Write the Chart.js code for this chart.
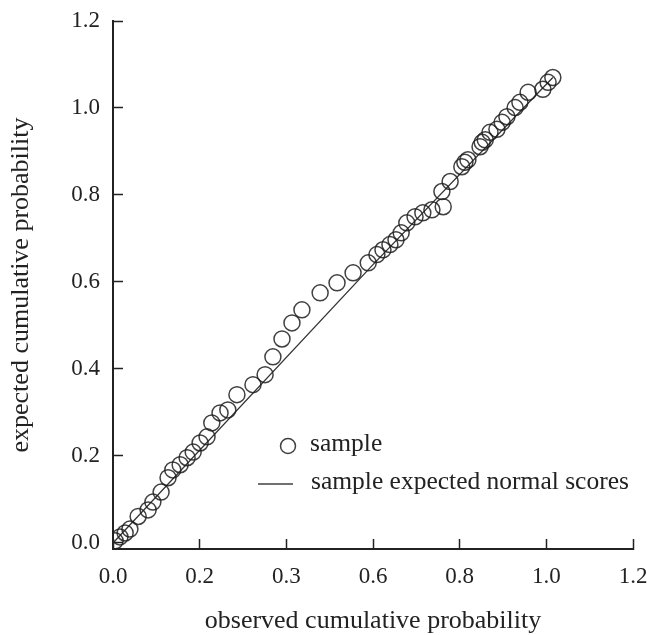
<!DOCTYPE html>
<html><head><meta charset="utf-8">
<script src="https://cdn.jsdelivr.net/npm/chart.js@4.4.0/dist/chart.umd.min.js"></script>
<style>html,body{margin:0;padding:0;background:#fff}#wrap{width:647px;height:635px}</style>
</head><body><div id="wrap"><canvas id="c" width="647" height="635"></canvas></div>
<script>
const observed = [0.005,0.016,0.028,0.039,0.058,0.081,0.092,0.111,0.127,0.138,0.155,0.171,0.185,0.201,0.217,0.228,0.247,0.265,0.286,0.323,0.351,0.369,0.390,0.413,0.436,0.478,0.517,0.554,0.589,0.609,0.623,0.639,0.653,0.665,0.678,0.697,0.715,0.736,0.762,0.759,0.778,0.805,0.812,0.819,0.847,0.852,0.859,0.870,0.886,0.898,0.909,0.928,0.939,0.958,0.992,1.004,1.015];
const expected = [0.005,0.014,0.023,0.032,0.061,0.076,0.094,0.117,0.150,0.168,0.180,0.196,0.209,0.230,0.244,0.276,0.299,0.306,0.341,0.364,0.387,0.428,0.469,0.506,0.536,0.575,0.598,0.621,0.644,0.663,0.674,0.686,0.697,0.713,0.736,0.750,0.759,0.766,0.773,0.808,0.831,0.865,0.875,0.881,0.911,0.921,0.927,0.944,0.951,0.967,0.980,1.001,1.013,1.036,1.043,1.059,1.070];
const lineObserved = [0, 0.6, 1.015];
const lineExpected = [0, 0.64, 1.07];
const xTickValues = [0, 0.2, 0.4, 0.6, 0.8, 1.0, 1.2];
const xTickLabels = ['0.0', '0.2', '0.3', '0.6', '0.8', '1.0', '1.2'];
const yTickValues = [0, 0.2, 0.4, 0.6, 0.8, 1.0, 1.2];
const yTickLabels = ['0.0', '0.2', '0.4', '0.6', '0.8', '1.0', '1.2'];
const seriesNames = ['sample', 'sample expected normal scores'];
const xTitle = 'observed cumulative probability';
const yTitle = 'expected cumulative probability';

const FONT = '"Liberation Serif", "Times New Roman", serif';
const INK = '#222';
const MARK = 'rgba(30,30,30,0.85)';

const legendPlugin = {
  id: 'innerLegend',
  afterDatasetsDraw(chart) {
    const ctx = chart.ctx;
    ctx.save();
    ctx.font = '25.5px ' + FONT;
    ctx.fillStyle = INK;
    ctx.textBaseline = 'middle';
    ctx.textAlign = 'left';
    ctx.strokeStyle = MARK;
    ctx.lineWidth = 1.5;
    ctx.beginPath();
    ctx.arc(288, 446, 7.5, 0, Math.PI * 2);
    ctx.stroke();
    ctx.fillText(seriesNames[0], 310, 444);
    ctx.beginPath();
    ctx.moveTo(258, 484);
    ctx.lineTo(293, 484);
    ctx.stroke();
    ctx.fillText(seriesNames[1], 311, 482);
    ctx.restore();
  }
};

new Chart(document.getElementById('c'), {
  type: 'scatter',
  data: {
    datasets: [
      {
        label: seriesNames[0],
        data: observed.map((v, i) => ({x: v, y: expected[i]})),
        showLine: false,
        pointStyle: 'circle',
        pointRadius: 8,
        pointBorderWidth: 1.5,
        pointBorderColor: MARK,
        pointBackgroundColor: 'rgba(0,0,0,0)',
        order: 1
      },
      {
        label: seriesNames[1],
        data: lineObserved.map((v, i) => ({x: v, y: lineExpected[i]})),
        showLine: true,
        borderColor: '#333',
        borderWidth: 1.3,
        pointRadius: 0,
        tension: 0,
        order: 2
      }
    ]
  },
  options: {
    responsive: false,
    devicePixelRatio: 1,
    animation: false,
    layout: {padding: {left: 0, right: 14, top: 21, bottom: 0}},
    plugins: {legend: {display: false}, tooltip: {enabled: false}},
    scales: {
      x: {
        type: 'linear', min: 0, max: 1.2,
        afterBuildTicks: s => { s.ticks = xTickValues.map(v => ({value: v})); },
        afterFit: s => { s.height = 86; s.paddingLeft = 0; s.paddingRight = 0; },
        ticks: {
          callback: (v, i) => xTickLabels[i],
          font: {family: FONT, size: 23}, color: INK, padding: 24, maxRotation: 0, autoSkip: false
        },
        grid: {drawOnChartArea: false, drawTicks: true, tickLength: -10, tickWidth: 1.5, tickColor: INK},
        border: {display: true, color: INK, width: 2},
        title: {display: true, text: xTitle, font: {family: FONT, size: 26}, color: INK, padding: -2}
      },
      y: {
        type: 'linear', min: -0.0138, max: 1.2,
        afterBuildTicks: s => { s.ticks = yTickValues.map(v => ({value: v})); },
        afterFit: s => { s.width = 113; s.paddingTop = 0; s.paddingBottom = 0; },
        ticks: {
          callback: (v, i) => yTickLabels[i],
          font: {family: FONT, size: 23}, color: INK, padding: 23, autoSkip: false
        },
        grid: {drawOnChartArea: false, drawTicks: true, tickLength: -10, tickWidth: 1.5, tickColor: INK},
        border: {display: true, color: INK, width: 2},
        title: {display: true, text: yTitle, font: {family: FONT, size: 26}, color: INK, padding: 6}
      }
    }
  },
  plugins: [legendPlugin]
});
</script>
</body></html>
